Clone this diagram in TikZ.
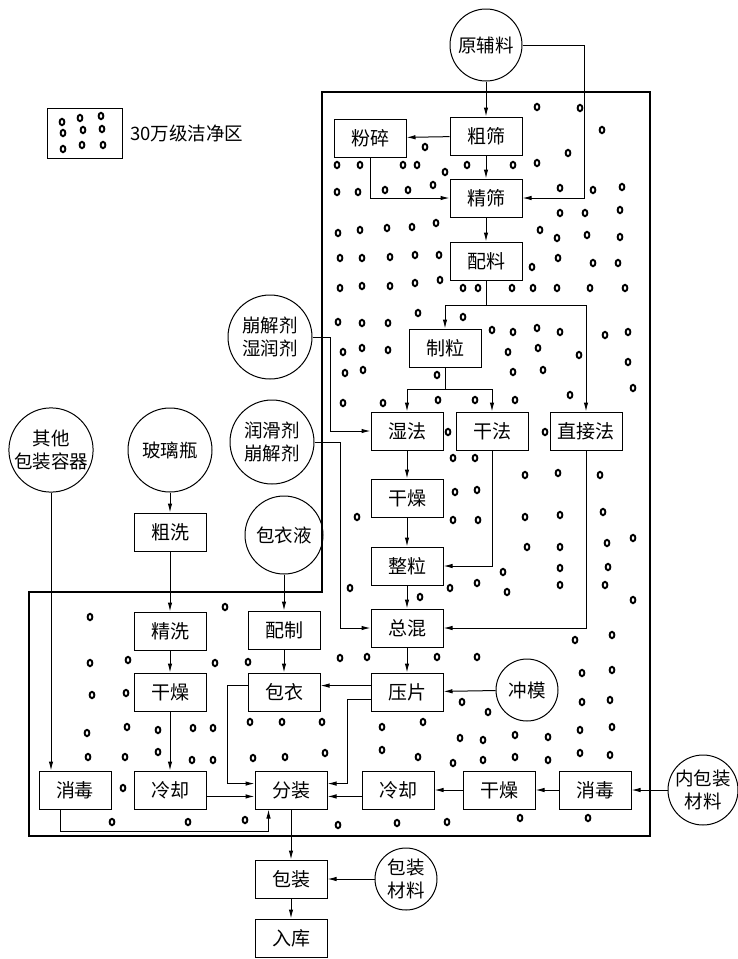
\documentclass[tikz,border=0pt]{standalone}
\usepackage{fontspec}
\setmainfont{Noto Sans CJK SC}
\usetikzlibrary{arrows.meta,calc,positioning}

\begin{document}
\begin{tikzpicture}[x=1pt,y=-1pt,
  box/.style={draw,line width=1pt,minimum width=72pt,minimum height=38pt,inner sep=1pt,font=\fontsize{19}{22}\selectfont},
  src/.style={draw,circle,line width=1pt,inner sep=0pt,align=center,font=\fontsize{18.5}{23}\selectfont},
  flow/.style={line width=1pt,-{Latex[length=9pt,width=4.5pt]}},
  dot/.style={line width=1.9pt}]
  \useasboundingbox (0,0) rectangle (738,959);
  \draw[line width=1.1pt] (322,92) -- (650,92) -- (650,836) -- (29,836) -- (29,592) -- (322,592) -- cycle;
  \foreach \p in {(537,107),(580,108),(602,130),(425,147),(568,153),
    (337,165),(360,165),(403,165),(417,165),(445,172),(467,165),(513,165),(537,163),
    (337,192),(358,192),(385,190),(408,190),(433,185),(560,188),(593,190),(622,187),
    (560,213),(585,213),(620,210),
    (338,233),(360,230),(387,228),(412,227),(436,223),(540,230),(557,238),(587,235),(620,237),
    (340,258),(362,258),(390,257),(415,255),(439,255),(532,267),(558,258),(593,263),(618,263),
    (340,288),(362,286),(390,286),(415,283),(440,280),(463,288),(478,288),(512,288),(533,288),(557,288),(590,288),(625,288),
    (338,322),(362,323),(388,323),(418,313),(463,317),(492,330),(513,332),(537,328),(560,332),(605,335),(628,332),
    (343,352),(362,348),(388,350),(508,352),(538,348),(579,355),(628,362),
    (345,373),(363,370),(437,375),(513,372),(543,370),(633,388),(570,395),
    (343,403),(383,403),(438,400),(475,400),(515,400),
    (448,432),(545,432),(453,458),(475,458),
    (525,475),(558,473),(600,475),(455,492),(477,490),
    (357,517),(453,520),(478,520),(525,517),(560,515),(603,512),
    (527,547),(560,547),(607,543),(633,538),
    (503,572),(560,568),(608,567),
    (350,588),(450,588),(477,583),(560,585),(605,585),(420,597),(507,592),(633,600),
    (575,640),(612,635),(340,658),(367,657),(437,657),(477,657),
    (582,673),(612,670),(462,702),(488,712),(582,702),(610,700),
    (382,727),(423,722),(460,738),(483,740),(515,735),(548,737),(580,730),(612,727),
    (382,750),(418,757),(453,763),(483,760),(515,757),(548,760),(580,753),(610,755),
    (397,823),(447,822),(520,818),(588,818),
    (90,617),(225,607),
    (90,663),(128,660),(215,663),(248,662),
    (92,695),(126,693),
    (87,733),(127,727),(158,730),(193,728),(213,728),(250,722),(282,722),(322,722),
    (88,757),(125,757),(158,752),(192,760),(213,760),(253,758),(285,757),(325,753),
    (123,788),(112,822),(188,822),(245,820),(338,825),
    (62,122),(80,118),(101,116),(63,133),(83,130),(102,129),(63,149),(82,145),(103,145)}
    \draw[dot] \p ellipse [x radius=2.4, y radius=3.2];

  \node[draw,line width=1pt,minimum width=75pt,minimum height=50pt] (legend) at (84.5,133) {};
  \node[right=4pt of legend,font=\fontsize{18.5}{22}\selectfont] (legtext) {30万级洁净区};

  \node[src,minimum size=72pt] (yuan) at (486,45) {原辅料};
  \node[box] (cushai) at (486,136) {粗筛};
  \node[box] (fensui) at (370,138) {粉碎};
  \node[box] (jingshai) at (486,198) {精筛};
  \node[box] (peiliao) at (486,261) {配料};
  \node[box] (zhili) at (445,348) {制粒};
  \node[box] (shifa) at (407,431) {湿法};
  \node[box] (ganfa) at (492,431) {干法};
  \node[box] (zhijie) at (586,431) {直接法};
  \node[box] (ganzao) at (407,498) {干燥};
  \node[box] (zhengli) at (407,566) {整粒};
  \node[box] (zonghun) at (407,628) {总混};
  \node[box] (yapian) at (407,692) {压片};
  \node[src,minimum size=62pt] (chongmo) at (527,690) {冲模};
  \node[src,minimum size=84pt] (bengjie) at (270,337) {崩解剂\\湿润剂};
  \node[src,minimum size=84pt] (runhua) at (272,442) {润滑剂\\崩解剂};
  \node[src,minimum size=78pt] (baoyiye) at (284,535) {包衣液};
  \node[box] (peizhi) at (284,630) {配制};
  \node[box] (baoyi) at (284,692) {包衣};
  \node[src,minimum size=84pt] (qita) at (51,450) {其他\\包装容器};
  \node[src,minimum size=84pt] (boli) at (170,450) {玻璃瓶};
  \node[box] (cuxi) at (170,532) {粗洗};
  \node[box] (jingxi) at (170,631) {精洗};
  \node[box] (ganzaob) at (170,692) {干燥};
  \node[box] (lengque) at (170,790) {冷却};
  \node[box] (xiaodu) at (75,790) {消毒};
  \node[box] (fenzhuang) at (291,790) {分装};
  \node[box] (lengqueb) at (398,790) {冷却};
  \node[box] (ganzaoc) at (499,790) {干燥};
  \node[box] (xiaodub) at (595,790) {消毒};
  \node[src,minimum size=70pt] (neibao) at (703,790) {内包装\\材料};
  \node[box] (baozhuang) at (291,879) {包装};
  \node[src,minimum size=62pt] (baocai) at (406,879) {包装\\材料};
  \node[box] (ruku) at (291,938) {入库};

  \coordinate (fenA) at (486,305);
  \coordinate (fenB) at (445,389);
  \draw[flow] (yuan) -- (cushai);
  \draw[flow] (yuan.east) -- ++(62,0) |- (jingshai.east);
  \draw[flow] (cushai) -- (fensui);
  \draw[flow] (cushai) -- (jingshai);
  \draw[flow] (fensui.south) |- (jingshai.west);
  \draw[flow] (jingshai) -- (peiliao);
  \draw[line width=1pt] (peiliao.south) -- (fenA);
  \draw[flow] (fenA) -| (zhili.north);
  \draw[flow] (fenA) -| (zhijie.north);
  \draw[line width=1pt] (zhili.south) -- (fenB);
  \draw[flow] (fenB) -| (shifa.north);
  \draw[flow] (fenB) -| (ganfa.north);
  \draw[flow] (bengjie.east) -- ++(18,0) |- (shifa.west);
  \draw[flow] (shifa) -- (ganzao);
  \draw[flow] (ganzao) -- (zhengli);
  \draw[flow] (zhengli) -- (zonghun);
  \draw[flow] (zonghun) -- (yapian);
  \draw[flow] (ganfa.south) |- (zhengli.east);
  \draw[flow] (zhijie.south) |- (zonghun.east);
  \draw[flow] (runhua.east) -- ++(26,0) |- (zonghun.west);
  \draw[flow] (chongmo) -- (yapian);
  \draw[flow] (yapian.170) -- (yapian.170 -| baoyi.east);
  \draw[flow] (yapian.192) -- ++(-23,0) |- (fenzhuang.10);
  \draw[flow] (baoyiye) -- (peizhi);
  \draw[flow] (peizhi) -- (baoyi);
  \draw[flow] (baoyi.170) -- ++(-20,0) |- (fenzhuang.170);
  \draw[flow] (boli) -- (cuxi);
  \draw[flow] (cuxi) -- (jingxi);
  \draw[flow] (jingxi) -- (ganzaob);
  \draw[flow] (ganzaob) -- (lengque);
  \draw[flow] (lengque.east |- fenzhuang.190) -- (fenzhuang.190);
  \draw[flow] (qita.south) -- (qita.south |- xiaodu.north);
  \draw[flow] ($(xiaodu.south west)+(22,0)$) -- ++(0,22) -| ($(fenzhuang.south west)+(14,0)$);
  \draw[flow] (neibao) -- (xiaodub);
  \draw[flow] (xiaodub) -- (ganzaoc);
  \draw[flow] (ganzaoc) -- (lengqueb);
  \draw[flow] (lengqueb.west |- fenzhuang.-10) -- (fenzhuang.-10);
  \draw[flow] (fenzhuang) -- (baozhuang);
  \draw[flow] (baocai) -- (baozhuang);
  \draw[flow] (baozhuang) -- (ruku);
\end{tikzpicture}
\end{document}
